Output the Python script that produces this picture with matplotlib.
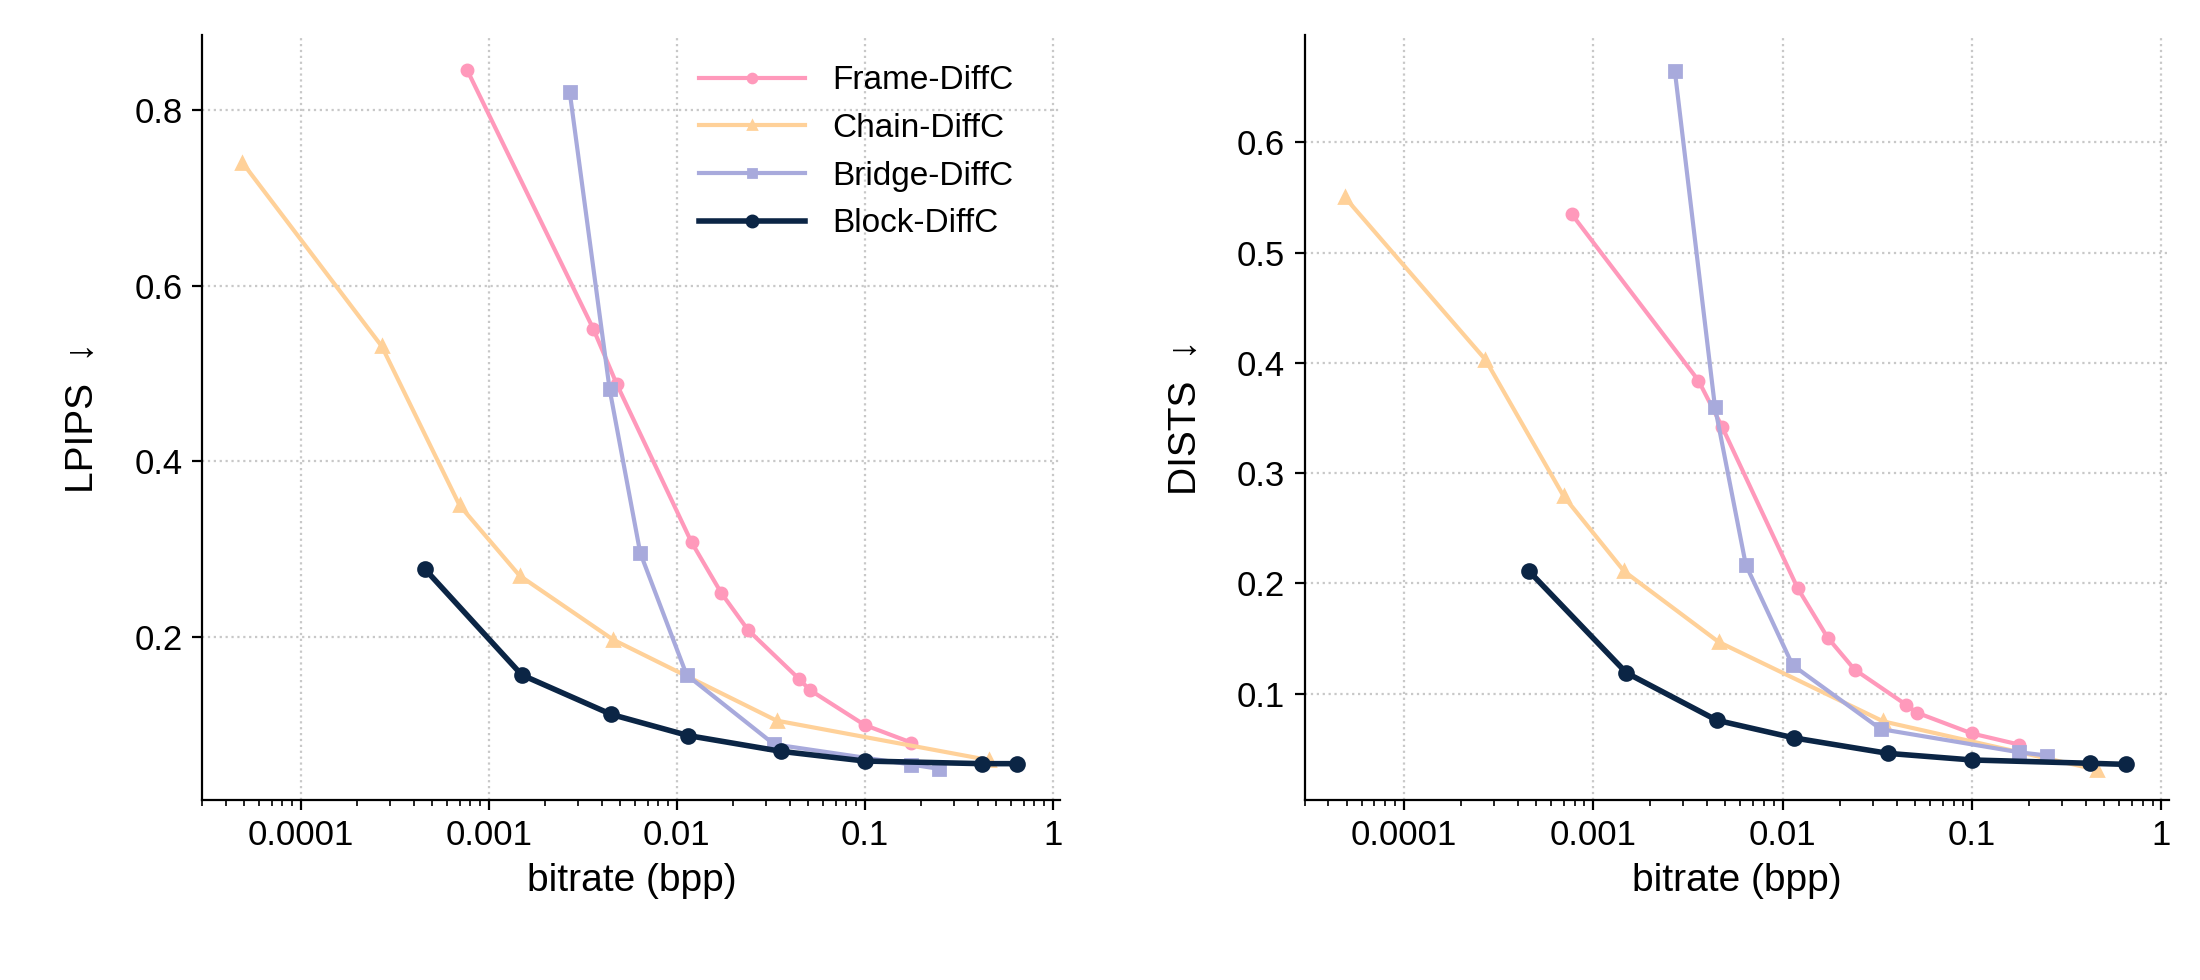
import matplotlib
matplotlib.use("Agg")
import matplotlib.pyplot as plt
from matplotlib.ticker import FixedLocator, FixedFormatter, LogLocator, NullFormatter

plt.rcParams['font.family'] = ['Liberation Sans', 'DejaVu Sans']

frame_x = [0.00077, 0.0036, 0.0048, 0.012, 0.0173, 0.024, 0.045, 0.051, 0.1, 0.177]
frame_lp = [0.845, 0.551, 0.488, 0.308, 0.25, 0.208, 0.152, 0.14, 0.1, 0.08]
frame_di = [0.535, 0.384, 0.342, 0.196, 0.151, 0.122, 0.09, 0.083, 0.064, 0.054]
chain_x = [4.9e-5, 0.00027, 0.0007, 0.00146, 0.0046, 0.034, 0.46]
chain_lp = [0.74, 0.531, 0.35, 0.27, 0.197, 0.105, 0.06]
chain_di = [0.55, 0.403, 0.279, 0.211, 0.147, 0.075, 0.031]
bridge_x = [0.0027, 0.0044, 0.0064, 0.0113, 0.033, 0.177, 0.25]
bridge_lp = [0.82, 0.482, 0.296, 0.157, 0.078, 0.055, 0.05]
bridge_di = [0.665, 0.36, 0.217, 0.126, 0.068, 0.047, 0.044]
block_x = [0.00046, 0.0015, 0.0045, 0.0115, 0.036, 0.1, 0.42, 0.65]
block_lp = [0.277, 0.157, 0.112, 0.088, 0.07, 0.059, 0.056, 0.056]
block_di = [0.211, 0.119, 0.076, 0.06, 0.046, 0.04, 0.037, 0.036]

xticks = [0.0001, 0.001, 0.01, 0.1, 1]
xticklabels = ['0.0001', '0.001', '0.01', '0.1', '1']

fig = plt.figure(figsize=(11, 4.9), dpi=200)
ax1 = fig.add_axes([0.092, 0.184, 0.39, 0.78])
ax2 = fig.add_axes([0.593, 0.184, 0.393, 0.78])

styles = [
    ('Frame-DiffC', frame_x, frame_lp, frame_di, '#FF99BB', 'o', 4, 1.5),
    ('Chain-DiffC', chain_x, chain_lp, chain_di, '#FFD199', '^', 4, 1.5),
    ('Bridge-DiffC', bridge_x, bridge_lp, bridge_di, '#A8AADC', 's', 4, 1.5),
    ('Block-DiffC', block_x, block_lp, block_di, '#0B2545', 'o', 5, 2.0),
]
for ax, idx in ((ax1, 2), (ax2, 3)):
    for s in styles:
        ax.plot(s[1], s[idx], color=s[4], marker=s[5], ms=s[6], lw=s[7], label=s[0])
    ax.set_xscale('log')
    ax.set_xlim(3e-5, 1.1)
    ax.xaxis.set_major_locator(FixedLocator(xticks))
    ax.xaxis.set_major_formatter(FixedFormatter(xticklabels))
    ax.xaxis.set_minor_locator(LogLocator(base=10, subs=range(2, 10)))
    ax.xaxis.set_minor_formatter(NullFormatter())
    ax.grid(True, which='major', ls=':', color='#C8C8C8', lw=0.8)
    for sp in ('top', 'right'):
        ax.spines[sp].set_visible(False)
    ax.tick_params(labelsize=12.5)
    ax.set_xlabel('bitrate (bpp)', fontsize=14)

ax1.set_ylim(0.015, 0.885)
ax1.set_yticks([0.2, 0.4, 0.6, 0.8])
ax1.set_ylabel('LPIPS  ↓', fontsize=14, labelpad=12)
ax2.set_ylim(0.004, 0.697)
ax2.set_yticks([0.1, 0.2, 0.3, 0.4, 0.5, 0.6])
ax2.set_ylabel('DISTS  ↓', fontsize=14, labelpad=12)
ax1.legend(loc='upper right', frameon=False, fontsize=12, handlelength=3.2,
           markerscale=0.8, bbox_to_anchor=(0.98, 1.0))

fig.savefig('out.png', dpi=200)
